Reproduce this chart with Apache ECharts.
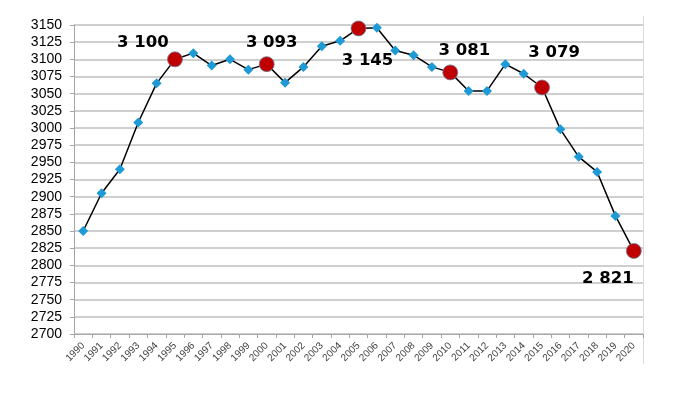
<!DOCTYPE html>
<html><head><meta charset="utf-8">
<script src="https://cdn.jsdelivr.net/npm/echarts@6/dist/echarts.min.js"></script>
<style>html,body{margin:0;padding:0;background:#fff}#c{width:685px;height:398px}</style>
</head><body><div id="c"></div>
<script>
var years = ['1990','1991','1992','1993','1994','1995','1996','1997','1998','1999','2000','2001','2002','2003','2004','2005','2006','2007','2008','2009','2010','2011','2012','2013','2014','2015','2016','2017','2018','2019','2020'];
var values = [2850,2905,2940,3008,3065,3100,3109,3091,3100,3085,3093,3066,3089,3119,3127,3145,3146,3113,3106,3089,3081,3054,3054,3093,3079,3059,2998,2958,2936,2872,2821];
var highlightYears = ['1995','2000','2005','2010','2015','2020'];
var highlightLabels = ['3 100','3 093','3 145','3 081','3 079','2 821'];
var yTicks = {min: 2700, max: 3150, step: 25};

var labelOffsets = {'1995':[-32,-17],'2000':[5,-21],'2005':[9,32],'2010':[14,-22],'2015':[12,-35],'2020':[-26,28]};

var data = values.map(function(v, i){
  var y = years[i];
  var h = highlightYears.indexOf(y);
  if (h < 0) return {value: v};
  return {
    value: v,
    symbol: 'circle',
    symbolSize: 15,
    itemStyle: {color: '#c00000', borderColor: '#6d7fa0', borderWidth: 0.8},
    label: {
      show: true,
      position: 'inside',
      offset: labelOffsets[y],
      formatter: highlightLabels[h],
      fontFamily: 'DejaVu Sans',
      fontWeight: 'bold',
      fontSize: 16.5,
      color: '#000'
    }
  };
});

var chart = echarts.init(document.getElementById('c'), null, {renderer: 'canvas'});
chart.setOption({
  animation: false,
  backgroundColor: '#fff',
  grid: {left: 74, right: 42, top: 25, bottom: 64, containLabel: false},
  xAxis: {
    type: 'category',
    data: years,
    boundaryGap: true,
    axisLine: {show: true, lineStyle: {color: '#a6a6a6', width: 1}},
    axisTick: {show: true, length: 4, interval: 0, lineStyle: {color: '#a6a6a6'}},
    axisLabel: {interval: 0, rotate: 45, fontSize: 10, color: '#404040', fontFamily: 'Liberation Sans', margin: 10},
    splitLine: {show: false}
  },
  yAxis: {
    type: 'value',
    min: yTicks.min, max: yTicks.max, interval: yTicks.step,
    axisLine: {show: true, lineStyle: {color: '#a6a6a6', width: 1}},
    axisTick: {show: true, length: 4, lineStyle: {color: '#a6a6a6'}},
    axisLabel: {fontSize: 14, color: '#000', fontFamily: 'Liberation Sans', margin: 12,
      formatter: function(v){ return String(v); }},
    splitLine: {show: true, lineStyle: {color: '#bfbfbf', width: 1.5}}
  },
  graphic: [{
    type: 'line', z: 0,
    shape: {x1: 643.5, y1: 16, x2: 643.5, y2: 364},
    style: {stroke: '#d9d9d9', lineWidth: 1}
  }],
  series: [{
    type: 'line',
    data: data,
    symbol: 'diamond',
    symbolSize: 10,
    showAllSymbol: true,
    lineStyle: {color: '#000', width: 1.5},
    itemStyle: {color: '#1e9ad6'},
    label: {show: false},
    z: 3
  }]
});
</script></body></html>
